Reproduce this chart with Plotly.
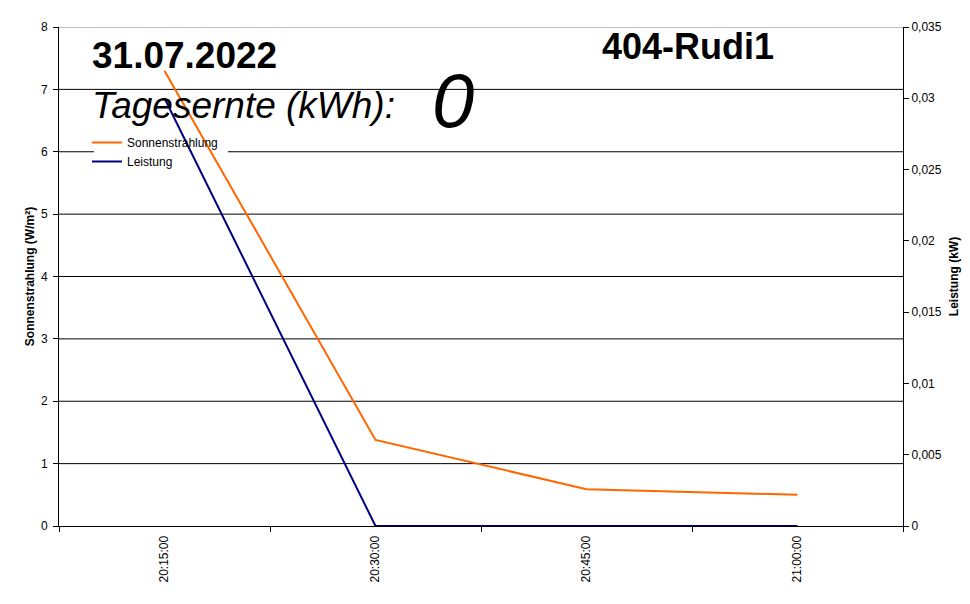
import plotly.graph_objects as go

times = ["20:15:00", "20:30:00", "20:45:00", "21:00:00"]
sonnenstrahlung = [7.3, 1.38, 0.59, 0.5]
leistung = [0.03, 0.0, 0.0, 0.0]
y_ticks = [0, 1, 2, 3, 4, 5, 6, 7, 8]

date_text = "31.07.2022"
ernte_label = "Tagesernte (kWh):"
ernte_value = "0"
station = "404-Rudi1"

FONT = "Arial, Liberation Sans, sans-serif"

# page offset of the figure (browser body margin)
OFF = 8
W, H = 970 - OFF, 604 - OFF
# plot area in page pixels
L, R, T, B = 59, 903, 27, 526
def px(x):
    return (x - L) / (R - L)
def py(y):
    return (B - y) / (B - T)

fig = go.Figure()
fig.add_trace(go.Scatter(x=times, y=sonnenstrahlung, name="Sonnenstrahlung",
                         mode="lines", line=dict(color="#FF6600", width=2), yaxis="y"))
fig.add_trace(go.Scatter(x=times, y=leistung, name="Leistung",
                         mode="lines", line=dict(color="#000080", width=2), yaxis="y2"))

# horizontal grid lines (drawn as background shapes so the legend box can mask them)
shapes = []
for v in y_ticks[1:]:
    shapes.append(dict(type="line", xref="paper", yref="y", x0=0, x1=1, y0=v, y1=v,
                       line=dict(color="#808080" if v == y_ticks[-1] else "black", width=1),
                       layer="below"))
# white legend background, under the traces
shapes.append(dict(type="rect", xref="paper", yref="paper", x0=px(94), x1=px(228),
                   y0=py(176), y1=py(133), fillcolor="white", line=dict(width=0),
                   layer="below"))

fig.update_layout(
    width=W, height=H,
    margin=dict(l=L - OFF, r=970 - R, t=T - OFF, b=604 - B, pad=0),
    paper_bgcolor="white", plot_bgcolor="white",
    font=dict(family=FONT, size=12, color="black"),
    separators=",.",
    showlegend=True,
    legend=dict(x=px(87), y=py(128), xanchor="left", yanchor="top",
                bgcolor="rgba(0,0,0,0)", borderwidth=0, font=dict(size=12, family=FONT),
                tracegroupgap=0),
    xaxis=dict(type="category", range=[-0.5, 3.5], tickson="boundaries",
               ticks="outside", ticklen=5, tickcolor="black", showgrid=False,
               showline=True, linecolor="black", linewidth=1, tickangle=-90,
               ticklabelstandoff=4,
               tickfont=dict(size=12, family=FONT), zeroline=False),
    yaxis=dict(range=[0, 8], tickvals=y_ticks, showgrid=False,
               showline=True, linecolor="black", linewidth=1, ticks="outside",
               ticklen=5, tickcolor="black", zeroline=False, ticklabelstandoff=3,
               title=dict(text="<b>Sonnenstrahlung (W/m²)</b>", font=dict(size=12, family=FONT),
                          standoff=3)),
    yaxis2=dict(range=[0, 0.035], dtick=0.005, overlaying="y", side="right",
                showgrid=False, showline=True, linecolor="black", linewidth=1,
                ticks="outside", ticklen=5, tickcolor="black", zeroline=False,
                title=dict(text="<b>Leistung (kW)</b>", font=dict(size=12, family=FONT),
                           standoff=8)),
    shapes=shapes,
    annotations=[
        dict(text="<b>" + date_text + "</b>", xref="paper", yref="paper",
             x=px(90), y=py(56), xanchor="left", yanchor="middle", showarrow=False,
             font=dict(size=37, family=FONT, color="black")),
        dict(text="<i>" + ernte_label + "</i>", xref="paper", yref="paper",
             x=px(90), y=py(105), xanchor="left", yanchor="middle", showarrow=False,
             font=dict(size=37, family=FONT, color="black")),
        dict(text="<i>" + ernte_value + "</i>", xref="paper", yref="paper",
             x=px(430), y=py(100), xanchor="left", yanchor="middle", showarrow=False,
             font=dict(size=76, family=FONT, color="black")),
        dict(text="<b>" + station + "</b>", xref="paper", yref="paper",
             x=px(600), y=py(46), xanchor="left", yanchor="middle", showarrow=False,
             font=dict(size=36, family=FONT, color="black")),
    ],
)

fig.write_html("out.html")
